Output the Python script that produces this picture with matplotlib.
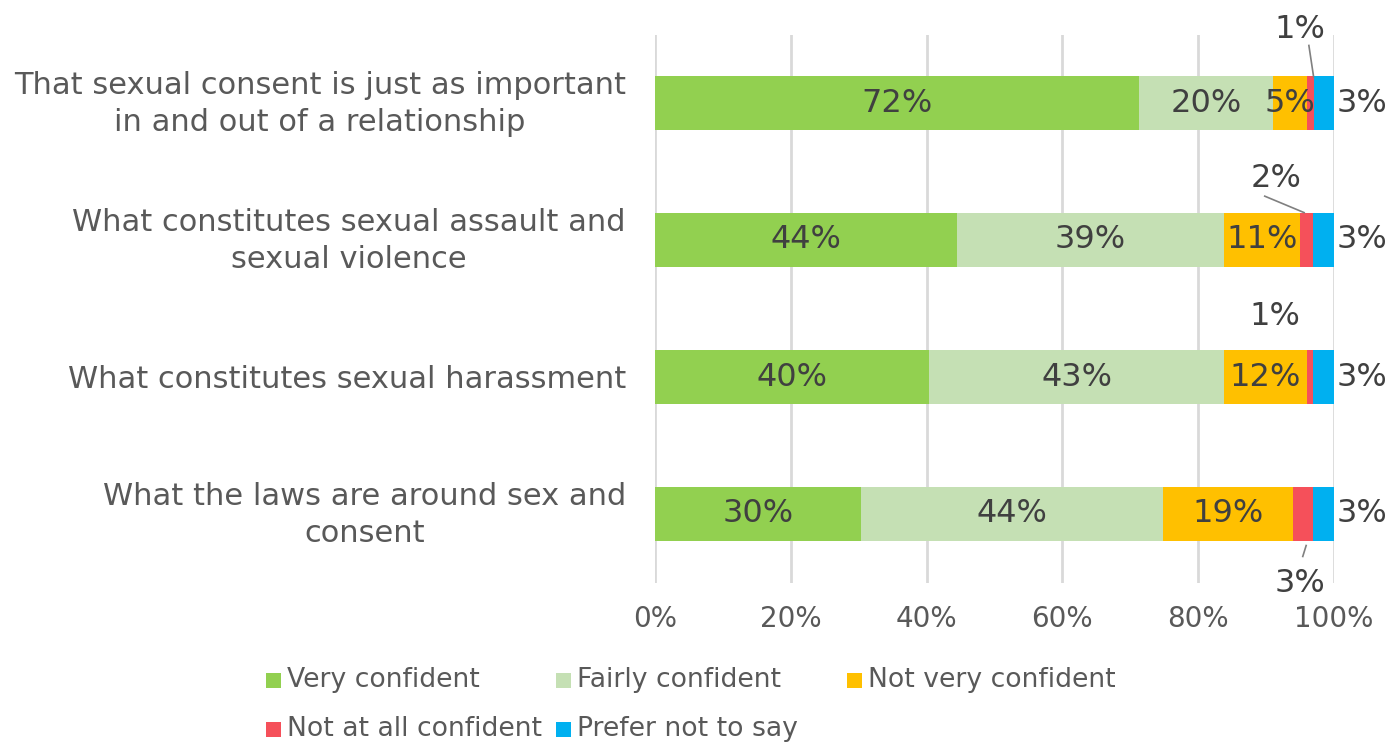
import matplotlib
matplotlib.use("Agg")
import matplotlib.pyplot as plt
from matplotlib.patches import Rectangle
from matplotlib.transforms import ScaledTranslation
import numpy as np

# Survey items (top to bottom) and response shares in percent
categories = [
    "That sexual consent is just as important\nin and out of a relationship",
    "What constitutes sexual assault and\nsexual violence",
    "What constitutes sexual harassment",
    "What the laws are around sex and\nconsent",
]
very_confident = [72, 44, 40, 30]
fairly_confident = [20, 39, 43, 44]
not_very_confident = [5, 11, 12, 19]
not_at_all_confident = [1, 2, 1, 3]
prefer_not_to_say = [3, 3, 3, 3]

series_names = ["Very confident", "Fairly confident", "Not very confident",
                "Not at all confident", "Prefer not to say"]
series_colors = ["#92D050", "#C5E0B4", "#FFC000", "#F5505A", "#00B0F0"]
x_ticks = [0, 20, 40, 60, 80, 100]
x_tick_labels = ["0%", "20%", "40%", "60%", "80%", "100%"]

TEXT = "#595959"
LABEL = "#404040"
FONT = "DejaVu Sans"
plt.rcParams["font.family"] = FONT

W, H = 1388, 742
fig = plt.figure(figsize=(W / 100, H / 100), dpi=100)
ax_l, ax_r, ax_t, ax_b = 655, 1334, 34.5, 582.5
ax = fig.add_axes([ax_l / W, (H - ax_b) / H, (ax_r - ax_l) / W, (ax_b - ax_t) / H])

data = np.array([very_confident, fairly_confident, not_very_confident,
                 not_at_all_confident, prefer_not_to_say], dtype=float)
totals = data.sum(axis=0)
shares = data / totals * 100.0  # 100% stacked
y = np.arange(len(categories))

left = np.zeros(len(categories))
for i, (name, col) in enumerate(zip(series_names, series_colors)):
    ax.barh(y, shares[i], left=left, height=0.394, color=col,
            label=name, zorder=3)
    left = left + shares[i]

ax.set_xlim(0, 100)
ax.set_ylim(3.5, -0.5)
ax.set_xticks(x_ticks)
ax.set_xticklabels(x_tick_labels)
ax.set_yticks(y)
ax.set_yticklabels(categories, multialignment="center", linespacing=1.33)
ax.tick_params(axis="y", length=0, pad=21, labelsize=22, labelcolor=TEXT)
ax.tick_params(axis="x", length=0, pad=16, labelsize=20, labelcolor=TEXT)
# Two-line labels sit a little high so both lines straddle the bar centre
lift = ScaledTranslation(0, 0.06, fig.dpi_scale_trans)
for lbl in ax.get_yticklabels():
    if "\n" in lbl.get_text():
        lbl.set_transform(lbl.get_transform() + lift)
for s in ax.spines.values():
    s.set_visible(False)
ax.grid(axis="x", color="#D9D9D9", linewidth=2, zorder=0)
ax.set_axisbelow(True)

label_fs = 23
starts = np.vstack([np.zeros(len(categories)), np.cumsum(shares, axis=0)[:-1]])
centers = starts + shares / 2

# Labels inside the three larger segments
for i in range(3):
    for j in range(len(categories)):
        ax.text(centers[i, j], y[j], f"{int(data[i, j])}%", ha="center",
                va="center", fontsize=label_fs, color=LABEL, zorder=5)

# "Prefer not to say" labels just outside the bar end
for j in range(len(categories)):
    ax.text(100.4, y[j], f"{int(data[4, j])}%", ha="left", va="center",
            fontsize=label_fs, color=LABEL, zorder=5, clip_on=False)

# "Not at all confident" labels with offsets and leader lines
red_offsets = [(-1.5, -0.54), (-4.5, -0.45), (-5.2, -0.44), (-0.5, 0.51)]
for j, (dx, dy) in enumerate(red_offsets):
    tx, ty = centers[3, j] + dx, y[j] + dy
    ax.text(tx, ty, f"{int(data[3, j])}%", ha="center", va="center",
            fontsize=label_fs, color=LABEL, zorder=5, clip_on=False)
leaders = [((96.3, -0.42), (97.0, -0.19)),
           ((89.8, 0.68), (95.6, 0.80)),
           ((95.9, 3.23), (95.4, 3.31))]
for (x0, y0), (x1, y1) in leaders:
    ax.plot([x0, x1], [y0, y1], color="#808080", linewidth=1.2, zorder=4,
            clip_on=False)

# Legend: fixed-width columns, two rows
legend_cols = [266, 556, 847]
legend_rows = [680, 729]
sq = 15
for k, (name, col) in enumerate(zip(series_names, series_colors)):
    r, c = divmod(k, 3)
    x0, yc = legend_cols[c], legend_rows[r]
    fig.add_artist(Rectangle((x0 / W, 1 - (yc + sq / 2) / H), sq / W, sq / H,
                             transform=fig.transFigure, facecolor=col,
                             edgecolor="none"))
    fig.text((x0 + sq + 6) / W, 1 - (yc - 3) / H, name, ha="left",
             va="center_baseline", fontsize=19.2, color=TEXT)

fig.savefig("out.png", dpi=100, facecolor="white")
